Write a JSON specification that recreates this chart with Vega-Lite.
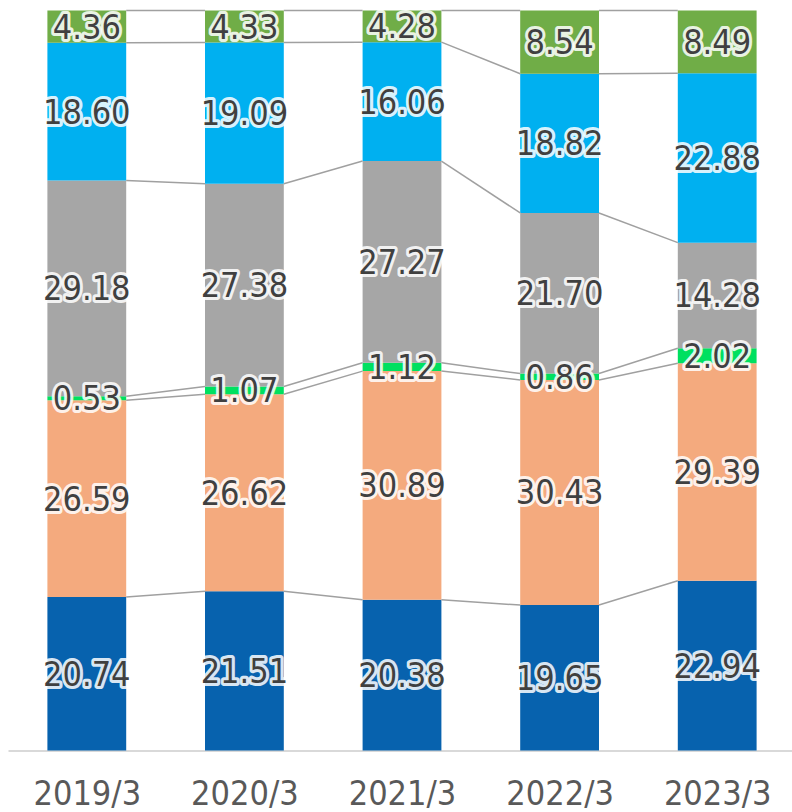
{
  "$schema": "https://vega.github.io/schema/vega-lite/v6.json",
  "width": 788,
  "height": 740,
  "autosize": {"type": "none"},
  "padding": {"left": 8, "top": 10.5, "right": 0, "bottom": 62},
  "background": "white",
  "config": {"view": {"stroke": null}},
  "data": {
    "values": [
      {"year": "2019/3", "series": "s1", "order": 1, "value": 20.74},
      {"year": "2019/3", "series": "s2", "order": 2, "value": 26.59},
      {"year": "2019/3", "series": "s3", "order": 3, "value": 0.53},
      {"year": "2019/3", "series": "s4", "order": 4, "value": 29.18},
      {"year": "2019/3", "series": "s5", "order": 5, "value": 18.60},
      {"year": "2019/3", "series": "s6", "order": 6, "value": 4.36},
      {"year": "2020/3", "series": "s1", "order": 1, "value": 21.51},
      {"year": "2020/3", "series": "s2", "order": 2, "value": 26.62},
      {"year": "2020/3", "series": "s3", "order": 3, "value": 1.07},
      {"year": "2020/3", "series": "s4", "order": 4, "value": 27.38},
      {"year": "2020/3", "series": "s5", "order": 5, "value": 19.09},
      {"year": "2020/3", "series": "s6", "order": 6, "value": 4.33},
      {"year": "2021/3", "series": "s1", "order": 1, "value": 20.38},
      {"year": "2021/3", "series": "s2", "order": 2, "value": 30.89},
      {"year": "2021/3", "series": "s3", "order": 3, "value": 1.12},
      {"year": "2021/3", "series": "s4", "order": 4, "value": 27.27},
      {"year": "2021/3", "series": "s5", "order": 5, "value": 16.06},
      {"year": "2021/3", "series": "s6", "order": 6, "value": 4.28},
      {"year": "2022/3", "series": "s1", "order": 1, "value": 19.65},
      {"year": "2022/3", "series": "s2", "order": 2, "value": 30.43},
      {"year": "2022/3", "series": "s3", "order": 3, "value": 0.86},
      {"year": "2022/3", "series": "s4", "order": 4, "value": 21.70},
      {"year": "2022/3", "series": "s5", "order": 5, "value": 18.82},
      {"year": "2022/3", "series": "s6", "order": 6, "value": 8.54},
      {"year": "2023/3", "series": "s1", "order": 1, "value": 22.94},
      {"year": "2023/3", "series": "s2", "order": 2, "value": 29.39},
      {"year": "2023/3", "series": "s3", "order": 3, "value": 2.02},
      {"year": "2023/3", "series": "s4", "order": 4, "value": 14.28},
      {"year": "2023/3", "series": "s5", "order": 5, "value": 22.88},
      {"year": "2023/3", "series": "s6", "order": 6, "value": 8.49}
    ]
  },
  "transform": [
    {"calculate": "indexof(['2019/3','2020/3','2021/3','2022/3','2023/3'], datum.year)", "as": "i"},
    {"stack": "value", "groupby": ["year"], "sort": [{"field": "order", "order": "ascending"}], "offset": "normalize", "as": ["y0", "y1"]},
    {"calculate": "(datum.y0 + datum.y1) / 2", "as": "ym"},
    {"calculate": "datum.i - 0.25", "as": "xl"},
    {"calculate": "datum.i + 0.25", "as": "xr"},
    {"calculate": "datum.i + 0.75", "as": "xn"},
    {"window": [{"op": "lead", "field": "y1", "as": "ny1"}], "groupby": ["series"], "sort": [{"field": "i", "order": "ascending"}], "frame": [null, null]}
  ],
  "layer": [
    {
      "mark": {"type": "bar"},
      "encoding": {
        "x": {
          "field": "xl", "type": "quantitative",
          "scale": {"domain": [-0.5, 4.5], "nice": false, "zero": false},
          "axis": {
            "values": [0, 1, 2, 3, 4],
            "labelExpr": "['2019/3','2020/3','2021/3','2022/3','2023/3'][datum.value]",
            "title": null, "grid": false, "ticks": false,
            "domainColor": "#D9D9D9", "domainWidth": 2,
            "labelFont": "DejaVu Sans Condensed, DejaVu Sans", "labelFontSize": 34,
            "labelColor": "#595959", "labelPadding": 27, "labelFlush": false
          }
        },
        "x2": {"field": "xr"},
        "y": {"field": "y0", "type": "quantitative", "scale": {"domain": [0, 1], "nice": false}, "axis": null},
        "y2": {"field": "y1"},
        "color": {
          "field": "series", "type": "nominal", "legend": null,
          "scale": {"domain": ["s1", "s2", "s3", "s4", "s5", "s6"], "range": ["#0762AE", "#F4AA7E", "#00E060", "#A6A6A6", "#00B0F0", "#70AD47"]}
        }
      }
    },
    {
      "transform": [{"filter": "datum.ny1 != null"}],
      "mark": {"type": "rule", "color": "#A0A0A0", "strokeWidth": 1.5},
      "encoding": {
        "x": {"field": "xr", "type": "quantitative"},
        "x2": {"field": "xn"},
        "y": {"field": "y1", "type": "quantitative"},
        "y2": {"field": "ny1"}
      }
    },
    {
      "mark": {"type": "text", "font": "DejaVu Sans Condensed, DejaVu Sans", "fontSize": 34, "fill": "white", "stroke": "white", "strokeWidth": 6, "strokeOpacity": 0.85, "strokeJoin": "round", "baseline": "middle", "align": "center", "dy": 2},
      "encoding": {
        "x": {"field": "i", "type": "quantitative"},
        "y": {"field": "ym", "type": "quantitative"},
        "text": {"field": "value", "type": "quantitative", "format": ".2f"}
      }
    },
    {
      "mark": {"type": "text", "font": "DejaVu Sans Condensed, DejaVu Sans", "fontSize": 34, "fill": "#404040", "baseline": "middle", "align": "center", "dy": 2},
      "encoding": {
        "x": {"field": "i", "type": "quantitative"},
        "y": {"field": "ym", "type": "quantitative"},
        "text": {"field": "value", "type": "quantitative", "format": ".2f"}
      }
    }
  ]
}
